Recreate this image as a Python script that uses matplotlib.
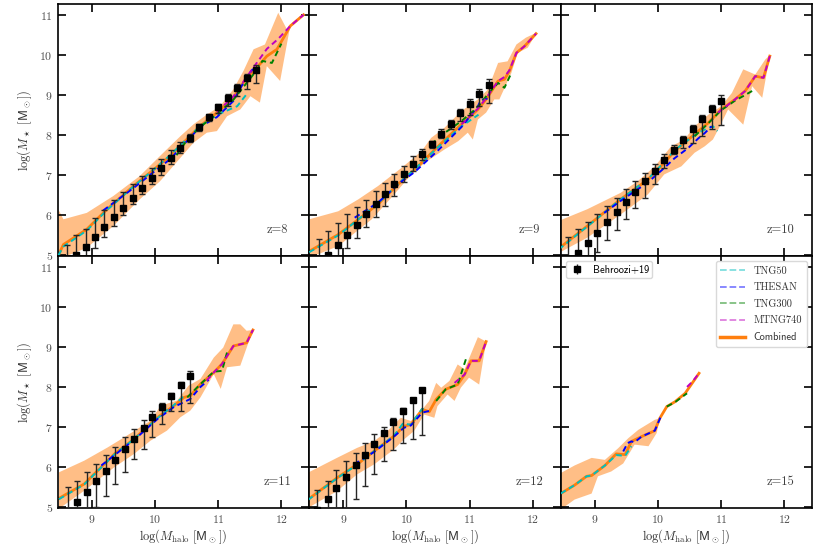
import numpy as np
import matplotlib
matplotlib.use('Agg')
import matplotlib.pyplot as plt
from matplotlib.lines import Line2D

plt.rcParams['font.family'] = 'serif'
plt.rcParams['font.serif'] = ['cmr10', 'DejaVu Serif']
plt.rcParams['mathtext.fontset'] = 'cm'
plt.rcParams['axes.formatter.use_mathtext'] = True
plt.rcParams['axes.unicode_minus'] = False

# ---- z = 8 ----
z8_beh_x = [8.60, 8.75, 8.90, 9.05, 9.20, 9.35, 9.50, 9.65, 9.80, 9.95, 10.10, 10.25, 10.40, 10.55, 10.70, 10.85, 11.00, 11.15, 11.30, 11.45, 11.60]
z8_beh_y = [4.80, 5.00, 5.22, 5.46, 5.71, 5.95, 6.19, 6.44, 6.69, 6.94, 7.18, 7.43, 7.67, 7.93, 8.19, 8.44, 8.69, 8.93, 9.18, 9.43, 9.63]
z8_beh_hi = [0.45, 0.50, 0.45, 0.46, 0.43, 0.42, 0.38, 0.34, 0.29, 0.24, 0.22, 0.19, 0.15, 0.10, 0.08, 0.08, 0.09, 0.10, 0.10, 0.10, 0.12]
z8_beh_lo = [0.30, 0.30, 0.28, 0.27, 0.25, 0.22, 0.18, 0.17, 0.17, 0.17, 0.17, 0.14, 0.12, 0.10, 0.08, 0.08, 0.14, 0.20, 0.21, 0.28, 0.33]
z8_comb_x = [8.47, 8.55, 8.92, 9.24, 9.66, 9.98, 10.24, 10.50, 10.71, 10.98, 11.24, 11.45, 11.61, 11.77, 11.93, 12.14, 12.35]
z8_comb_y = [5.00, 5.27, 5.65, 6.15, 6.73, 7.14, 7.48, 7.89, 8.22, 8.56, 8.93, 9.43, 9.68, 9.97, 10.14, 10.72, 11.00]
z8_up_x = [8.47, 8.55, 8.92, 9.34, 9.76, 10.08, 10.40, 10.61, 10.82, 11.03, 11.24, 11.40, 11.56, 11.74, 11.95, 12.09, 12.19, 12.35]
z8_up_y = [6.15, 5.90, 6.06, 6.48, 6.98, 7.48, 7.97, 8.27, 8.51, 8.72, 9.14, 9.60, 10.14, 10.26, 11.05, 10.63, 10.80, 11.00]
z8_lo_x = [8.47, 8.92, 9.34, 9.76, 10.08, 10.40, 10.61, 10.82, 10.98, 11.14, 11.35, 11.51, 11.66, 11.77, 11.98, 12.14, 12.35]
z8_lo_y = [4.90, 5.19, 5.73, 6.40, 6.85, 7.43, 7.81, 8.06, 8.10, 8.47, 8.64, 8.97, 8.81, 9.72, 9.35, 10.72, 11.00]
z8_tng50_x = [8.47, 8.55, 8.92, 9.24, 9.66, 9.98, 10.24, 10.50, 10.71, 10.98, 11.15, 11.30, 11.45]
z8_tng50_y = [5.00, 5.22, 5.62, 6.13, 6.72, 7.14, 7.50, 7.90, 8.22, 8.50, 8.62, 8.72, 9.02]
z8_thesan_x = [9.18, 9.66, 9.98, 10.24, 10.50, 10.71, 10.98, 11.24, 11.45, 11.55]
z8_thesan_y = [6.12, 6.68, 7.08, 7.40, 7.84, 8.20, 8.45, 8.85, 9.45, 9.65]
z8_tng300_x = [10.34, 10.50, 10.71, 10.98, 11.24, 11.45, 11.61, 11.70, 11.85, 12.00]
z8_tng300_y = [7.50, 7.86, 8.20, 8.52, 8.88, 9.30, 9.62, 9.85, 9.80, 10.28]
z8_mtng_x = [10.98, 11.24, 11.45, 11.61, 11.77, 11.95, 12.14, 12.35]
z8_mtng_y = [8.58, 8.96, 9.45, 9.80, 10.15, 10.40, 10.72, 11.00]

# ---- z = 9 ----
z9_beh_x = [8.61, 8.76, 8.91, 9.06, 9.21, 9.36, 9.51, 9.66, 9.81, 9.96, 10.11, 10.25, 10.41, 10.55, 10.70, 10.85, 11.00, 11.15, 11.30]
z9_beh_y = [4.77, 5.02, 5.27, 5.52, 5.77, 6.02, 6.28, 6.53, 6.78, 7.03, 7.28, 7.53, 7.78, 8.03, 8.28, 8.54, 8.78, 9.03, 9.25]
z9_beh_hi = [0.64, 0.60, 0.54, 0.50, 0.44, 0.37, 0.32, 0.28, 0.26, 0.20, 0.20, 0.13, 0.08, 0.11, 0.09, 0.10, 0.12, 0.12, 0.14]
z9_beh_lo = [0.50, 0.40, 0.35, 0.33, 0.33, 0.32, 0.32, 0.30, 0.30, 0.20, 0.18, 0.14, 0.10, 0.11, 0.14, 0.19, 0.28, 0.31, 0.45]
z9_comb_x = [8.46, 8.92, 9.24, 9.55, 9.92, 10.13, 10.50, 10.87, 11.13, 11.26, 11.45, 11.55, 11.63, 11.74, 11.87, 12.05]
z9_comb_y = [5.10, 5.52, 5.90, 6.28, 6.85, 7.14, 7.72, 8.27, 8.64, 8.89, 9.35, 9.39, 9.60, 10.05, 10.22, 10.53]
z9_up_x = [8.46, 8.92, 9.24, 9.55, 9.92, 10.24, 10.39, 10.60, 10.87, 11.13, 11.29, 11.45, 11.60, 11.74, 11.89, 12.05]
z9_up_y = [5.90, 6.10, 6.40, 6.73, 7.18, 7.60, 7.93, 8.18, 8.60, 8.89, 9.14, 9.80, 9.84, 10.26, 10.43, 10.55]
z9_lo_x = [8.46, 8.92, 9.45, 9.76, 10.08, 10.29, 10.60, 10.82, 10.97, 11.05, 11.13, 11.26, 11.39, 11.47, 11.66, 11.76, 11.92, 12.05]
z9_lo_y = [4.94, 5.23, 5.90, 6.44, 7.02, 7.31, 7.64, 7.85, 8.06, 7.89, 8.39, 8.56, 8.89, 8.89, 9.55, 10.05, 10.18, 10.53]
z9_tng50_x = [8.46, 8.92, 9.24, 9.55, 9.92, 10.13, 10.50, 10.87, 11.14]
z9_tng50_y = [5.08, 5.50, 5.90, 6.30, 6.86, 7.15, 7.70, 8.22, 8.51]
z9_thesan_x = [9.18, 9.55, 9.92, 10.13, 10.50, 10.87, 11.13, 11.18, 11.34]
z9_thesan_y = [5.94, 6.32, 6.84, 7.08, 7.62, 8.20, 8.72, 8.88, 8.93]
z9_tng300_x = [10.39, 10.60, 10.87, 11.13, 11.30, 11.45, 11.55, 11.66]
z9_tng300_y = [7.77, 8.05, 8.35, 8.70, 9.05, 9.30, 9.18, 9.55]
z9_mtng_x = [10.87, 11.13, 11.26, 11.45, 11.55, 11.63, 11.74, 11.87, 12.05]
z9_mtng_y = [8.27, 8.66, 8.92, 9.35, 9.45, 9.62, 10.05, 10.22, 10.53]

# ---- z = 10 ----
z10_beh_x = [8.58, 8.73, 8.89, 9.04, 9.19, 9.35, 9.49, 9.64, 9.80, 9.95, 10.09, 10.25, 10.40, 10.55, 10.70, 10.85, 11.00]
z10_beh_y = [4.80, 5.05, 5.31, 5.57, 5.83, 6.09, 6.34, 6.59, 6.85, 7.11, 7.37, 7.63, 7.89, 8.14, 8.41, 8.64, 8.86]
z10_beh_hi = [0.66, 0.60, 0.52, 0.47, 0.40, 0.35, 0.32, 0.26, 0.21, 0.18, 0.15, 0.12, 0.08, 0.10, 0.10, 0.10, 0.15]
z10_beh_lo = [0.50, 0.50, 0.50, 0.49, 0.45, 0.46, 0.44, 0.40, 0.41, 0.34, 0.19, 0.11, 0.21, 0.34, 0.44, 0.50, 0.62]
z10_comb_x = [8.43, 8.88, 9.41, 9.84, 10.10, 10.26, 10.48, 10.64, 10.80, 11.00, 11.22, 11.38, 11.54, 11.67, 11.77]
z10_comb_y = [5.17, 5.73, 6.40, 6.89, 7.31, 7.60, 7.89, 8.10, 8.31, 8.64, 8.89, 9.10, 9.47, 9.43, 9.97]
z10_up_x = [8.43, 8.88, 9.41, 9.68, 9.95, 10.21, 10.42, 10.58, 10.80, 11.00, 11.17, 11.35, 11.54, 11.70, 11.77]
z10_up_y = [5.86, 6.15, 6.56, 6.85, 7.22, 7.72, 7.89, 8.22, 8.51, 8.72, 9.05, 9.64, 9.51, 9.89, 9.99]
z10_lo_x = [8.43, 8.88, 9.41, 9.84, 10.10, 10.37, 10.58, 10.74, 10.87, 10.98, 11.11, 11.35, 11.49, 11.65, 11.77]
z10_lo_y = [5.06, 5.44, 6.02, 6.52, 7.02, 7.22, 7.56, 7.72, 7.89, 8.22, 8.64, 8.26, 9.22, 8.93, 9.97]
z10_tng50_x = [8.43, 8.88, 9.41, 9.84, 10.10, 10.26, 10.48, 10.64, 10.80, 10.87, 10.94]
z10_tng50_y = [5.15, 5.72, 6.40, 6.90, 7.33, 7.62, 7.88, 8.06, 8.18, 8.22, 8.10]
z10_thesan_x = [9.15, 9.41, 9.84, 10.10, 10.26, 10.48, 10.64, 10.74, 10.85]
z10_thesan_y = [6.06, 6.36, 6.82, 7.18, 7.42, 7.68, 7.92, 8.05, 8.22]
z10_tng300_x = [10.58, 10.80, 11.00, 11.22, 11.38, 11.49]
z10_tng300_y = [7.97, 8.30, 8.62, 8.86, 9.00, 9.10]
z10_mtng_x = [10.95, 11.22, 11.38, 11.54, 11.67, 11.77]
z10_mtng_y = [8.56, 8.89, 9.10, 9.47, 9.43, 9.97]

# ---- z = 11 ----
z11_beh_x = [8.62, 8.77, 8.92, 9.07, 9.23, 9.37, 9.52, 9.67, 9.82, 9.96, 10.11, 10.26, 10.41, 10.56]
z11_beh_y = [4.85, 5.12, 5.38, 5.65, 5.91, 6.18, 6.44, 6.71, 6.98, 7.24, 7.51, 7.78, 8.05, 8.28]
z11_beh_hi = [0.65, 0.54, 0.49, 0.43, 0.38, 0.31, 0.30, 0.24, 0.20, 0.17, 0.10, 0.08, 0.06, 0.11]
z11_beh_lo = [0.70, 0.70, 0.70, 0.65, 0.64, 0.60, 0.57, 0.51, 0.53, 0.48, 0.44, 0.37, 0.64, 0.69]
z11_comb_x = [8.48, 8.88, 9.36, 9.67, 10.04, 10.30, 10.46, 10.56, 10.72, 10.93, 11.06, 11.24, 11.45, 11.55]
z11_comb_y = [5.22, 5.58, 6.33, 6.70, 7.24, 7.53, 7.74, 7.78, 8.07, 8.36, 8.57, 9.02, 9.10, 9.42]
z11_up_x = [8.48, 8.88, 9.25, 9.51, 9.93, 10.09, 10.35, 10.53, 10.72, 10.93, 11.08, 11.24, 11.35, 11.45, 11.55]
z11_up_y = [5.87, 6.16, 6.49, 6.74, 7.16, 7.53, 7.66, 8.03, 8.20, 8.73, 8.98, 9.56, 9.56, 9.40, 9.42]
z11_lo_x = [8.48, 8.88, 9.36, 9.67, 9.93, 10.19, 10.40, 10.56, 10.72, 10.93, 11.04, 11.14, 11.35, 11.55]
z11_lo_y = [4.96, 5.41, 6.00, 6.33, 6.66, 6.91, 7.24, 7.41, 7.74, 8.32, 7.95, 8.49, 8.53, 9.42]
z11_tng50_x = [8.48, 8.88, 9.36, 9.67, 10.04, 10.30, 10.48]
z11_tng50_y = [5.20, 5.57, 6.32, 6.70, 7.22, 7.55, 7.80]
z11_thesan_x = [9.15, 9.36, 9.67, 10.04, 10.30, 10.56, 10.72, 10.85]
z11_thesan_y = [6.04, 6.30, 6.68, 7.20, 7.50, 7.70, 8.00, 8.18]
z11_tng300_x = [10.51, 10.72, 10.93, 11.06, 11.14]
z11_tng300_y = [7.74, 8.07, 8.38, 8.40, 8.86]
z11_mtng_x = [10.82, 10.93, 11.06, 11.24, 11.45, 11.55]
z11_mtng_y = [8.16, 8.36, 8.57, 9.02, 9.10, 9.42]

# ---- z = 12 ----
z12_beh_x = [8.59, 8.75, 8.89, 9.04, 9.20, 9.34, 9.49, 9.65, 9.79, 9.95, 10.10, 10.24]
z12_beh_y = [4.93, 5.21, 5.48, 5.76, 6.04, 6.31, 6.58, 6.86, 7.13, 7.41, 7.68, 7.92]
z12_beh_hi = [0.51, 0.44, 0.44, 0.39, 0.32, 0.28, 0.24, 0.14, 0.10, 0.07, 0.04, 0.06]
z12_beh_lo = [0.80, 0.80, 0.80, 0.80, 0.83, 0.78, 0.75, 0.71, 0.71, 0.80, 0.99, 1.13]
z12_comb_x = [8.44, 8.90, 9.22, 9.49, 9.80, 9.96, 10.07, 10.25, 10.36, 10.47, 10.62, 10.81, 10.92, 11.02, 11.15, 11.26]
z12_comb_y = [5.19, 5.73, 6.07, 6.40, 6.77, 7.02, 7.06, 7.44, 7.38, 7.69, 7.94, 8.06, 8.31, 8.65, 8.65, 9.13]
z12_up_x = [8.44, 8.90, 9.22, 9.49, 9.70, 9.91, 10.07, 10.23, 10.36, 10.47, 10.55, 10.68, 10.81, 10.92, 11.13, 11.26]
z12_up_y = [5.86, 6.23, 6.48, 6.65, 6.90, 7.23, 7.15, 7.40, 7.65, 8.10, 7.98, 8.15, 8.56, 8.44, 9.24, 9.13]
z12_lo_x = [8.44, 8.90, 9.22, 9.49, 9.80, 9.96, 10.12, 10.28, 10.44, 10.49, 10.65, 10.76, 10.86, 10.99, 11.15, 11.26]
z12_lo_y = [4.98, 5.40, 5.82, 6.07, 6.44, 6.69, 6.90, 7.31, 7.23, 7.52, 7.81, 7.65, 7.98, 8.23, 8.06, 9.13]
z12_tng50_x = [8.44, 8.90, 9.22, 9.49, 9.80, 9.94, 10.07, 10.25, 10.30]
z12_tng50_y = [5.18, 5.72, 6.06, 6.40, 6.78, 7.08, 7.06, 7.46, 7.40]
z12_thesan_x = [9.17, 9.49, 9.80, 9.96, 10.07, 10.25, 10.36]
z12_thesan_y = [6.07, 6.38, 6.76, 6.98, 7.04, 7.36, 7.40]
z12_tng300_x = [10.47, 10.62, 10.81, 10.88, 10.94]
z12_tng300_y = [7.65, 7.94, 8.06, 8.40, 8.69]
z12_mtng_x = [10.76, 10.92, 11.02, 11.15, 11.26]
z12_mtng_y = [8.10, 8.31, 8.65, 8.65, 9.13]

# ---- z = 15 ----
z15_comb_x = [8.46, 8.68, 8.87, 8.95, 9.16, 9.34, 9.48, 9.58, 9.74, 9.95, 10.03, 10.14, 10.27, 10.43, 10.65]
z15_comb_y = [5.34, 5.55, 5.77, 5.79, 6.04, 6.33, 6.31, 6.64, 6.76, 6.91, 7.22, 7.51, 7.63, 7.84, 8.34]
z15_up_x = [8.46, 8.68, 8.95, 9.16, 9.37, 9.53, 9.69, 9.95, 10.03]
z15_up_y = [5.85, 6.04, 6.23, 6.18, 6.47, 6.72, 6.93, 7.18, 7.22]
z15_lo_x = [8.46, 8.68, 8.95, 9.05, 9.26, 9.45, 9.63, 9.85, 9.98, 10.03]
z15_lo_y = [4.94, 5.19, 5.34, 5.77, 5.89, 6.09, 6.56, 6.52, 6.85, 7.22]
z15_tng50_x = [8.46, 8.68, 8.87, 8.95, 9.16, 9.34, 9.48, 9.58]
z15_tng50_y = [5.34, 5.55, 5.77, 5.79, 6.04, 6.30, 6.28, 6.52]
z15_thesan_x = [9.45, 9.52, 9.58, 9.63, 9.74, 9.95, 10.05]
z15_thesan_y = [6.39, 6.60, 6.64, 6.62, 6.76, 6.91, 7.28]
z15_tng300_x = [10.14, 10.27, 10.46]
z15_tng300_y = [7.51, 7.62, 7.84]
z15_mtng_x = [10.46, 10.55, 10.65]
z15_mtng_y = [8.00, 8.14, 8.34]

redshifts = [8, 9, 10, 11, 12, 15]
sim_names = ['TNG50', 'THESAN', 'TNG300', 'MTNG740']
sim_colors = ['c', 'b', 'g', 'm']

panels = [
    dict(beh=(z8_beh_x, z8_beh_y, z8_beh_lo, z8_beh_hi), comb=(z8_comb_x, z8_comb_y),
         up=(z8_up_x, z8_up_y), lo=(z8_lo_x, z8_lo_y),
         sims=[(z8_tng50_x, z8_tng50_y), (z8_thesan_x, z8_thesan_y), (z8_tng300_x, z8_tng300_y), (z8_mtng_x, z8_mtng_y)]),
    dict(beh=(z9_beh_x, z9_beh_y, z9_beh_lo, z9_beh_hi), comb=(z9_comb_x, z9_comb_y),
         up=(z9_up_x, z9_up_y), lo=(z9_lo_x, z9_lo_y),
         sims=[(z9_tng50_x, z9_tng50_y), (z9_thesan_x, z9_thesan_y), (z9_tng300_x, z9_tng300_y), (z9_mtng_x, z9_mtng_y)]),
    dict(beh=(z10_beh_x, z10_beh_y, z10_beh_lo, z10_beh_hi), comb=(z10_comb_x, z10_comb_y),
         up=(z10_up_x, z10_up_y), lo=(z10_lo_x, z10_lo_y),
         sims=[(z10_tng50_x, z10_tng50_y), (z10_thesan_x, z10_thesan_y), (z10_tng300_x, z10_tng300_y), (z10_mtng_x, z10_mtng_y)]),
    dict(beh=(z11_beh_x, z11_beh_y, z11_beh_lo, z11_beh_hi), comb=(z11_comb_x, z11_comb_y),
         up=(z11_up_x, z11_up_y), lo=(z11_lo_x, z11_lo_y),
         sims=[(z11_tng50_x, z11_tng50_y), (z11_thesan_x, z11_thesan_y), (z11_tng300_x, z11_tng300_y), (z11_mtng_x, z11_mtng_y)]),
    dict(beh=(z12_beh_x, z12_beh_y, z12_beh_lo, z12_beh_hi), comb=(z12_comb_x, z12_comb_y),
         up=(z12_up_x, z12_up_y), lo=(z12_lo_x, z12_lo_y),
         sims=[(z12_tng50_x, z12_tng50_y), (z12_thesan_x, z12_thesan_y), (z12_tng300_x, z12_tng300_y), (z12_mtng_x, z12_mtng_y)]),
    dict(beh=None, comb=(z15_comb_x, z15_comb_y),
         up=(z15_up_x, z15_up_y), lo=(z15_lo_x, z15_lo_y),
         sims=[(z15_tng50_x, z15_tng50_y), (z15_thesan_x, z15_thesan_y), (z15_tng300_x, z15_tng300_y), (z15_mtng_x, z15_mtng_y)]),
]

fig, axes = plt.subplots(2, 3, figsize=(8.22, 5.48), dpi=100, sharex=True, sharey=True)
fig.subplots_adjust(left=0.0702, right=0.988, bottom=0.073, top=0.992, wspace=0, hspace=0)

for ax, z, p in zip(axes.flat, redshifts, panels):
    # scatter band as polygon: upper edge then lower edge backwards
    bx = list(p['up'][0]) + list(p['lo'][0])[::-1]
    by = list(p['up'][1]) + list(p['lo'][1])[::-1]
    ax.fill(bx, by, color='C1', alpha=0.5, lw=0, zorder=1)
    ax.plot(p['comb'][0], p['comb'][1], color='C1', lw=2, zorder=2)
    for (sx, sy), c in zip(p['sims'], sim_colors):
        ax.plot(sx, sy, color=c, ls='--', lw=1.4, dashes=(3, 2), zorder=3)
    if p['beh'] is not None:
        bxs, bys, blo, bhi = p['beh']
        ax.errorbar(bxs, bys, yerr=[blo, bhi], fmt='s', color='k', ms=4,
                    ecolor='0.15', elinewidth=1, capsize=2, capthick=1, zorder=4)
    ax.text(0.875, 0.105, f'z={z}', transform=ax.transAxes, ha='center', va='center',
            fontsize=9, color='0.25')

    ax.tick_params(direction='in', top=True, right=True, length=6, width=1.2,
                   labelsize=8.5, labelcolor='0.3')
    for s in ax.spines.values():
        s.set_linewidth(1.2)

ax0 = axes[0, 0]
ax0.set_xlim(8.46, 12.44)
ax0.set_ylim(4.98, 11.26)
ax0.set_xticks([9, 10, 11, 12])
ax0.set_yticks([5, 6, 7, 8, 9, 10, 11])

for ax in axes[:, 0]:
    ax.set_ylabel(r'$\log(M_\star\ [\mathsf{M}_\odot])$', fontsize=9, color='0.2')
for ax in axes[1, :]:
    ax.set_xlabel(r'$\log(M_{\rm halo}\ [\mathsf{M}_\odot])$', fontsize=9, color='0.2', labelpad=2)

# legends in the z=15 panel
ax6 = axes[1, 2]
beh_handle = ax6.errorbar([], [], yerr=[], fmt='s', color='k', ms=4, ecolor='0.15',
                          elinewidth=1, capsize=2)
leg1 = ax6.legend([beh_handle], ['Behroozi+19'], loc='upper left',
                  prop={'family': 'cmss10', 'size': 7.5}, handlelength=1.5,
                  borderpad=0.3, framealpha=1, edgecolor='0.85')
ax6.add_artist(leg1)
handles = [Line2D([], [], color=c, ls='--', lw=1.3, alpha=0.5) for c in sim_colors]
handles.append(Line2D([], [], color='C1', lw=2.5))
leg2 = ax6.legend(handles, sim_names + ['Combined'], loc='upper right', fontsize=7.5,
                  handlelength=2.4, borderpad=0.45, labelspacing=0.68, framealpha=1,
                  edgecolor='0.85')
leg2.get_texts()[-1].set_fontfamily('cmss10')
for t in leg2.get_texts():
    t.set_color('0.2')

fig.savefig('out.png', dpi=100)
